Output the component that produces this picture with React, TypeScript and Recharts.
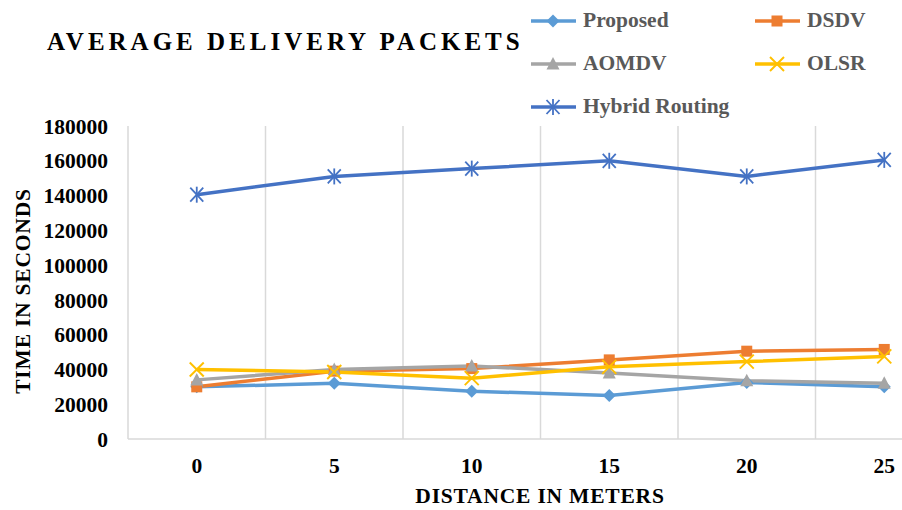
import React from "react"
import { LineChart, Line, XAxis, YAxis, ReferenceLine } from "recharts"

const distances = [0, 5, 10, 15, 20, 25]
const proposed = [30000, 32000, 27500, 25000, 32500, 30000]
const dsdv = [30000, 39000, 40500, 45500, 50500, 51500]
const aomdv = [34000, 40000, 42000, 38000, 33500, 32000]
const olsr = [40000, 38500, 35000, 41500, 44500, 47500]
const hybrid = [140500, 151000, 155500, 160000, 151000, 160500]
const yTicks = [0, 20000, 40000, 60000, 80000, 100000, 120000, 140000, 160000, 180000]
// category boundaries (half way between distances)
const gridBounds = [2.5, 7.5, 12.5, 17.5, 22.5, 27.5]

const FONT = '"Liberation Serif", "Times New Roman", serif'

const data = distances.map((d, i) => ({
  distance: d,
  proposed: proposed[i],
  dsdv: dsdv[i],
  aomdv: aomdv[i],
  olsr: olsr[i],
  hybrid: hybrid[i],
}))

type Shape = "diamond" | "square" | "triangle" | "x" | "star"

const series: { key: string; name: string; color: string; shape: Shape }[] = [
  { key: "proposed", name: "Proposed", color: "#5B9BD5", shape: "diamond" },
  { key: "dsdv", name: "DSDV", color: "#ED7D31", shape: "square" },
  { key: "aomdv", name: "AOMDV", color: "#A5A5A5", shape: "triangle" },
  { key: "olsr", name: "OLSR", color: "#FFC000", shape: "x" },
  { key: "hybrid", name: "Hybrid Routing", color: "#4472C4", shape: "star" },
]

function Marker({ shape, color, cx, cy }: { shape: Shape; color: string; cx: number; cy: number }) {
  if (shape === "diamond") {
    return <polygon points={`${cx},${cy - 6.5} ${cx + 6.5},${cy} ${cx},${cy + 6.5} ${cx - 6.5},${cy}`} fill={color} />
  }
  if (shape === "square") {
    return <rect x={cx - 5.5} y={cy - 5.5} width={11} height={11} fill={color} />
  }
  if (shape === "triangle") {
    return <polygon points={`${cx},${cy - 7} ${cx + 6.5},${cy + 5.5} ${cx - 6.5},${cy + 5.5}`} fill={color} />
  }
  if (shape === "x") {
    return (
      <g stroke={color} strokeWidth={2}>
        <line x1={cx - 7} y1={cy - 7} x2={cx + 7} y2={cy + 7} />
        <line x1={cx - 7} y1={cy + 7} x2={cx + 7} y2={cy - 7} />
      </g>
    )
  }
  return (
    <g stroke={color} strokeWidth={1.8}>
      <line x1={cx - 6.5} y1={cy - 7} x2={cx + 6.5} y2={cy + 7} />
      <line x1={cx - 6.5} y1={cy + 7} x2={cx + 6.5} y2={cy - 7} />
      <line x1={cx} y1={cy - 8} x2={cx} y2={cy + 8} />
    </g>
  )
}

const makeDot = (shape: Shape, color: string) => (props: any) => (
  <g key={`${shape}-${props.index}`}>
    <Marker shape={shape} color={color} cx={props.cx} cy={props.cy} />
  </g>
)

function LegendBox() {
  return (
    <div
      style={{
        position: "absolute",
        left: 528,
        top: 8,
        display: "grid",
        gridTemplateColumns: "224px 140px",
        rowGap: 18,
        fontFamily: FONT,
        fontWeight: "bold",
        fontSize: 21.5,
        color: "#595959",
      }}
    >
      {series.map((s) => (
        <div key={s.key} style={{ display: "flex", alignItems: "center", height: 25 }}>
          <svg width={52} height={20}>
            <line x1={3} y1={10} x2={48} y2={10} stroke={s.color} strokeWidth={3.5} />
            <Marker shape={s.shape} color={s.color} cx={25} cy={10} />
          </svg>
          <span style={{ marginLeft: 3, whiteSpace: "nowrap" }}>{s.name}</span>
        </div>
      ))}
    </div>
  )
}

export default function App() {
  const tickStyle = { fill: "#000", fontFamily: FONT, fontWeight: "bold", fontSize: 21.5 }
  return (
    <div style={{ position: "absolute", left: 0, top: 0, width: 902, height: 510, overflow: "hidden", background: "#fff" }}>
      <div
        style={{
          position: "absolute",
          left: 47,
          top: 28,
          fontFamily: FONT,
          fontWeight: "bold",
          fontSize: 25,
          letterSpacing: 4,
          whiteSpace: "nowrap",
        }}
      >
        AVERAGE DELIVERY PACKETS
      </div>
      <LegendBox />
      <LineChart width={980} height={510} data={data} margin={{ top: 126, right: 27, bottom: 31, left: 28 }}>
        {gridBounds.map((b) => (
          <ReferenceLine key={b} x={b} stroke="#d9d9d9" strokeWidth={1.5} />
        ))}
        <XAxis
          dataKey="distance"
          type="number"
          domain={[-2.5, 27.5]}
          ticks={distances}
          interval={0}
          height={40}
          tickLine={false}
          tickSize={6}
          tickMargin={13}
          axisLine={{ stroke: "#d9d9d9", strokeWidth: 1.5 }}
          tick={tickStyle}
          allowDataOverflow
        />
        <YAxis
          domain={[0, 180000]}
          ticks={yTicks}
          interval={0}
          width={100}
          tickLine={false}
          tickSize={6}
          tickMargin={14}
          axisLine={{ stroke: "#d9d9d9", strokeWidth: 1.5 }}
          tick={tickStyle}
        />
        {series.map((s) => (
          <Line
            key={s.key}
            dataKey={s.key}
            name={s.name}
            stroke={s.color}
            strokeWidth={3.5}
            dot={makeDot(s.shape, s.color)}
            activeDot={false}
            isAnimationActive={false}
          />
        ))}
      </LineChart>
      <div
        style={{
          position: "absolute",
          left: 540,
          top: 497,
          transform: "translate(-50%, -50%)",
          fontFamily: FONT,
          fontWeight: "bold",
          fontSize: 21.5,
          lineHeight: 1,
          letterSpacing: 0.8,
          whiteSpace: "nowrap",
        }}
      >
        DISTANCE IN METERS
      </div>
      <div
        style={{
          position: "absolute",
          left: 23,
          top: 291,
          transform: "translate(-50%, -50%) rotate(-90deg)",
          fontFamily: FONT,
          fontWeight: "bold",
          fontSize: 21.5,
          letterSpacing: 0.8,
          whiteSpace: "nowrap",
        }}
      >
        TIME IN SECONDS
      </div>
    </div>
  )
}
